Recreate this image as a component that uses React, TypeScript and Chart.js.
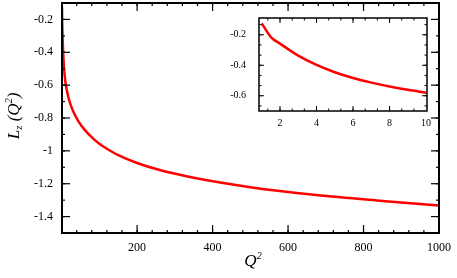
import React, { useEffect, useRef } from "react";
import { Chart, registerables } from "chart.js";

Chart.register(...registerables);

// ---- data ----
const q2 = [1, 1.5, 2, 3, 4, 5, 6, 7, 8, 9, 10, 12, 16, 20, 30, 43, 60, 83, 100, 123, 150, 200, 260, 350, 500, 675, 850, 1000];
const lz = [-0.125, -0.215, -0.258, -0.337, -0.398, -0.446, -0.484, -0.514, -0.539, -0.561, -0.58, -0.61, -0.654, -0.692, -0.756, -0.814, -0.869, -0.924, -0.957, -0.992, -1.026, -1.074, -1.117, -1.164, -1.221, -1.269, -1.305, -1.333];

const mainXTicks = [200, 400, 600, 800, 1000];
const mainYTicks = [-0.2, -0.4, -0.6, -0.8, -1, -1.2, -1.4];
const insetXTicks = [2, 4, 6, 8, 10];
const insetYTicks = [-0.2, -0.4, -0.6];

const mainXMinorStep = 40;
const mainYMinorStep = 0.1;
const insetXMinorStep = 2 / 3;
const insetYMinorStep = 0.2 / 3;

const insetMaxQ2 = 10;

const RED = "#ff0000";
const SERIF = "'Liberation Serif', 'Times New Roman', serif";

function stepList(from: number, to: number, step: number, anchor: number) {
  const out: number[] = [];
  const k0 = Math.ceil((from - anchor) / step - 1e-9);
  for (let k = k0; anchor + k * step <= to + 1e-9; k++) out.push(anchor + k * step);
  return out;
}

const frameTicks = {
  id: "frameTicks",
  afterDatasetsDraw(chart: any, _args: any, opts: any) {
    const { ctx, chartArea: a, scales } = chart;
    const xs = scales.x;
    const ys = scales.y;
    ctx.save();
    ctx.strokeStyle = "#000";
    ctx.lineWidth = opts.tickWidth;
    const seg = (x1: number, y1: number, x2: number, y2: number) => {
      ctx.beginPath();
      ctx.moveTo(x1, y1);
      ctx.lineTo(x2, y2);
      ctx.stroke();
    };
    const xMinor = stepList(xs.min, xs.max, opts.xMinorStep, opts.xMajor[0]);
    const yMinor = stepList(ys.min, ys.max, opts.yMinorStep, opts.yMajor[0]);
    const drawX = (vals: number[], len: number) =>
      vals.forEach((v) => {
        const p = xs.getPixelForValue(v);
        if (p < a.left + 1 || p > a.right - 1) return;
        seg(p, a.bottom, p, a.bottom - len);
        seg(p, a.top, p, a.top + len);
      });
    const drawY = (vals: number[], len: number) =>
      vals.forEach((v) => {
        const p = ys.getPixelForValue(v);
        if (p < a.top + 1 || p > a.bottom - 1) return;
        seg(a.left, p, a.left + len, p);
        seg(a.right, p, a.right - len, p);
      });
    drawX(xMinor, opts.minorLen);
    drawX(opts.xMajor, opts.majorLen);
    drawY(yMinor, opts.minorLen);
    drawY(opts.yMajor, opts.majorLen);
    ctx.lineWidth = opts.frameWidth;
    ctx.strokeRect(a.left, a.top, a.right - a.left, a.bottom - a.top);
    ctx.restore();
  },
};

function drawSegments(ctx: CanvasRenderingContext2D, segs: [string, number, number][], cx: number, cy: number) {
  let total = 0;
  segs.forEach(([t, size]) => {
    ctx.font = `italic ${size}px ${SERIF}`;
    total += ctx.measureText(t).width;
  });
  let x = cx - total / 2;
  ctx.textBaseline = "middle";
  ctx.textAlign = "left";
  segs.forEach(([t, size, dy]) => {
    ctx.font = `italic ${size}px ${SERIF}`;
    ctx.fillText(t, x, cy + dy);
    x += ctx.measureText(t).width;
  });
}

const axisTitles = {
  id: "axisTitles",
  afterDraw(chart: any) {
    const ctx: CanvasRenderingContext2D = chart.ctx;
    ctx.save();
    ctx.fillStyle = "#000";
    drawSegments(ctx, [["Q", 17, 0], ["2", 10, -6]], 253, 262);
    ctx.translate(15, 116);
    ctx.rotate(-Math.PI / 2);
    drawSegments(
      ctx,
      [
        ["L", 17, 0],
        ["z", 11, 4],
        [" (", 17, 0],
        ["Q", 17, 0],
        ["2", 10, -6],
        [")", 17, 0],
      ],
      0,
      0
    );
    ctx.restore();
  },
};

function makeAxis(min: number, max: number, ticks: number[], fontSize: number, padding: number, size: number, horizontal: boolean) {
  return {
    type: "linear" as const,
    min,
    max,
    grid: { display: false, drawTicks: false },
    border: { display: false },
    ticks: {
      color: "#000",
      font: { family: SERIF, size: fontSize },
      padding,
      maxRotation: 0,
      autoSkip: false,
      callback: (v: any) => String(v),
    },
    afterBuildTicks: (s: any) => {
      s.ticks = ticks.map((v) => ({ value: v }));
    },
    afterFit: (s: any) => {
      if (horizontal) s.height = size;
      else s.width = size;
      s.paddingTop = 0;
      s.paddingBottom = 0;
      s.paddingLeft = 0;
      s.paddingRight = 0;
    },
  };
}

export default function App() {
  const mainRef = useRef<HTMLCanvasElement>(null);
  const insetRef = useRef<HTMLCanvasElement>(null);

  useEffect(() => {
    const mainPts = q2.map((x, i) => ({ x, y: lz[i] }));
    const insetPts = q2.filter((x) => x <= insetMaxQ2).map((x, i) => ({ x, y: lz[i] }));

    const main = new Chart(mainRef.current!, {
      type: "line",
      data: {
        datasets: [
          {
            data: mainPts,
            borderColor: RED,
            borderWidth: 2.5,
            pointRadius: 0,
            cubicInterpolationMode: "monotone",
            fill: false,
          },
        ],
      },
      options: {
        animation: false,
        responsive: false,
        maintainAspectRatio: false,
        layout: { padding: { left: 0, right: 18, top: 3, bottom: 0 } },
        plugins: {
          legend: { display: false },
          tooltip: { enabled: false },
          frameTicks: {
            tickWidth: 1.2,
            frameWidth: 2,
            majorLen: 8,
            minorLen: 3,
            xMajor: mainXTicks,
            yMajor: mainYTicks,
            xMinorStep: mainXMinorStep,
            yMinorStep: mainYMinorStep,
          },
        } as any,
        scales: {
          x: makeAxis(1, 1000, mainXTicks, 12, 8, 45, true),
          y: makeAxis(-1.5, -0.1, mainYTicks, 12, 9, 62, false),
        },
      },
      plugins: [frameTicks, axisTitles],
    });

    const inset = new Chart(insetRef.current!, {
      type: "line",
      data: {
        datasets: [
          {
            data: insetPts,
            borderColor: RED,
            borderWidth: 2.5,
            pointRadius: 0,
            cubicInterpolationMode: "monotone",
            fill: false,
          },
        ],
      },
      options: {
        animation: false,
        responsive: false,
        maintainAspectRatio: false,
        layout: { padding: { left: 0, right: 12, top: 10, bottom: 0 } },
        plugins: {
          legend: { display: false },
          tooltip: { enabled: false },
          frameTicks: {
            tickWidth: 1,
            frameWidth: 1.5,
            majorLen: 5,
            minorLen: 2.5,
            xMajor: insetXTicks,
            yMajor: insetYTicks,
            xMinorStep: insetXMinorStep,
            yMinorStep: insetYMinorStep,
          },
        } as any,
        scales: {
          x: makeAxis(0.85, 10.05, insetXTicks, 10, 6, 27, true),
          y: makeAxis(-0.7, -0.09, insetYTicks, 10, 13, 44, false),
        },
      },
      plugins: [frameTicks],
    });

    return () => {
      main.destroy();
      inset.destroy();
    };
  }, []);

  return (
    <div style={{ position: "fixed", left: 0, top: 0, width: 457, height: 278, background: "#fff" }}>
      <canvas ref={mainRef} width={457} height={278} style={{ position: "absolute", left: 0, top: 0 }} />
      <canvas ref={insetRef} width={224} height={130} style={{ position: "absolute", left: 215, top: 8 }} />
    </div>
  );
}
